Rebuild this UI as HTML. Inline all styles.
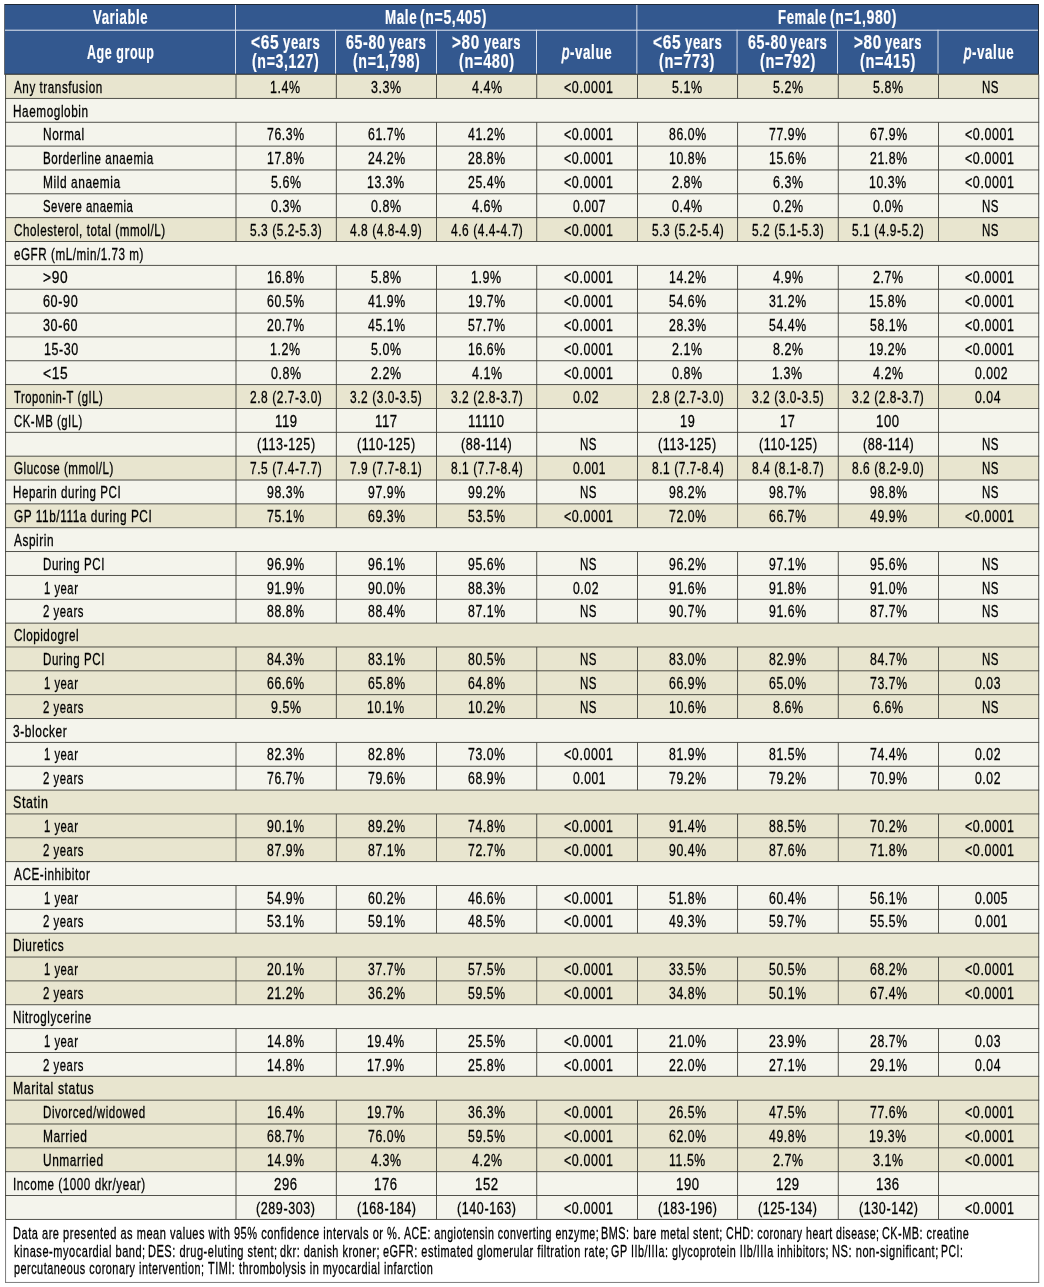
<!DOCTYPE html>
<html lang="en">
<head>
<meta charset="utf-8">
<title>Table</title>
<style>
html,body{margin:0;padding:0;background:#fff;}
body{width:1044px;height:1287px;overflow:hidden;position:relative;font-family:"Liberation Sans",sans-serif;color:#000;}
#grid{position:absolute;left:0;top:0;width:1044px;height:1287px;display:block;}
.hd{position:absolute;left:0;top:0;width:1044px;height:74.4px;color:#fff;font-weight:bold;font-size:19.8px;line-height:24px;}
.bd{position:absolute;left:0;top:0;width:1044px;font-size:16.8px;line-height:20px;}
.r{position:absolute;left:0;width:1044px;height:20px;}
.c,.h,.ft{position:absolute;white-space:nowrap;}
.c{top:0;height:20px;}
.h{height:24px;}
.c span,.h span,.ft span{display:inline-block;transform-origin:0 50%;}
.c span,.ft span{-webkit-text-stroke:0.32px #000;letter-spacing:0.8px;}
.h span{-webkit-text-stroke:0.2px #fff;letter-spacing:0.9px;}
.h i{font-style:italic;font-weight:normal;-webkit-text-stroke:0.9px #fff;}
.fl{position:absolute;left:0;width:1044px;height:20px;font-size:16.8px;line-height:20px;}
.ft{top:0;height:20px;}
</style>
</head>
<body>
<svg id="grid" width="1044" height="1287" viewBox="0 0 1044 1287">
<rect x="5.6" y="74.55" width="1033.15" height="23.851" fill="#e8e5cf"/>
<rect x="5.6" y="98.401" width="1033.15" height="119.255" fill="#f4f4ec"/>
<rect x="5.6" y="217.656" width="1033.15" height="23.851" fill="#e8e5cf"/>
<rect x="5.6" y="241.507" width="1033.15" height="143.106" fill="#f4f4ec"/>
<rect x="5.6" y="384.613" width="1033.15" height="23.851" fill="#e8e5cf"/>
<rect x="5.6" y="408.464" width="1033.15" height="47.702" fill="#f4f4ec"/>
<rect x="5.6" y="456.166" width="1033.15" height="23.851" fill="#e8e5cf"/>
<rect x="5.6" y="480.017" width="1033.15" height="23.851" fill="#f4f4ec"/>
<rect x="5.6" y="503.868" width="1033.15" height="23.851" fill="#e8e5cf"/>
<rect x="5.6" y="527.719" width="1033.15" height="95.404" fill="#f4f4ec"/>
<rect x="5.6" y="623.123" width="1033.15" height="95.404" fill="#e8e5cf"/>
<rect x="5.6" y="718.527" width="1033.15" height="71.553" fill="#f4f4ec"/>
<rect x="5.6" y="790.08" width="1033.15" height="71.553" fill="#e8e5cf"/>
<rect x="5.6" y="861.633" width="1033.15" height="71.553" fill="#f4f4ec"/>
<rect x="5.6" y="933.186" width="1033.15" height="71.553" fill="#e8e5cf"/>
<rect x="5.6" y="1004.739" width="1033.15" height="71.553" fill="#f4f4ec"/>
<rect x="5.6" y="1076.292" width="1033.15" height="95.404" fill="#e8e5cf"/>
<rect x="5.6" y="1171.696" width="1033.15" height="47.702" fill="#f4f4ec"/>
<rect x="4.3" y="4" width="1034.7" height="70.3" fill="#1f2937"/>
<rect x="5" y="5" width="1033" height="68.8" fill="#33588f"/>
<rect x="5" y="29.7" width="1033" height="1" fill="#e6eaf3"/>
<rect x="235.025" y="5" width="0.95" height="68.8" fill="#dde3ef"/>
<rect x="335.025" y="29.7" width="0.95" height="44.1" fill="#dde3ef"/>
<rect x="436.025" y="29.7" width="0.95" height="44.1" fill="#dde3ef"/>
<rect x="536.025" y="29.7" width="0.95" height="44.1" fill="#dde3ef"/>
<rect x="636.375" y="5" width="0.95" height="68.8" fill="#dde3ef"/>
<rect x="736.575" y="29.7" width="0.95" height="44.1" fill="#dde3ef"/>
<rect x="837.025" y="29.7" width="0.95" height="44.1" fill="#dde3ef"/>
<rect x="937.525" y="29.7" width="0.95" height="44.1" fill="#dde3ef"/>
<rect x="4.3" y="73.8" width="1034.7" height="1" fill="#3f3f39"/>
<rect x="5.15" y="97.951" width="1034.05" height="0.9" fill="#3f3f39"/>
<rect x="5.15" y="121.802" width="1034.05" height="0.9" fill="#3f3f39"/>
<rect x="5.15" y="145.653" width="1034.05" height="0.9" fill="#3f3f39"/>
<rect x="5.15" y="169.504" width="1034.05" height="0.9" fill="#3f3f39"/>
<rect x="5.15" y="193.355" width="1034.05" height="0.9" fill="#3f3f39"/>
<rect x="5.15" y="217.206" width="1034.05" height="0.9" fill="#3f3f39"/>
<rect x="5.15" y="241.057" width="1034.05" height="0.9" fill="#3f3f39"/>
<rect x="5.15" y="264.908" width="1034.05" height="0.9" fill="#3f3f39"/>
<rect x="5.15" y="288.759" width="1034.05" height="0.9" fill="#3f3f39"/>
<rect x="5.15" y="312.61" width="1034.05" height="0.9" fill="#3f3f39"/>
<rect x="5.15" y="336.461" width="1034.05" height="0.9" fill="#3f3f39"/>
<rect x="5.15" y="360.312" width="1034.05" height="0.9" fill="#3f3f39"/>
<rect x="5.15" y="384.163" width="1034.05" height="0.9" fill="#3f3f39"/>
<rect x="5.15" y="408.014" width="1034.05" height="0.9" fill="#3f3f39"/>
<rect x="5.15" y="431.865" width="1034.05" height="0.9" fill="#3f3f39"/>
<rect x="5.15" y="455.716" width="1034.05" height="0.9" fill="#3f3f39"/>
<rect x="5.15" y="479.567" width="1034.05" height="0.9" fill="#3f3f39"/>
<rect x="5.15" y="503.418" width="1034.05" height="0.9" fill="#3f3f39"/>
<rect x="5.15" y="527.269" width="1034.05" height="0.9" fill="#3f3f39"/>
<rect x="5.15" y="551.12" width="1034.05" height="0.9" fill="#3f3f39"/>
<rect x="5.15" y="574.971" width="1034.05" height="0.9" fill="#3f3f39"/>
<rect x="5.15" y="598.822" width="1034.05" height="0.9" fill="#3f3f39"/>
<rect x="5.15" y="622.673" width="1034.05" height="0.9" fill="#3f3f39"/>
<rect x="5.15" y="646.524" width="1034.05" height="0.9" fill="#3f3f39"/>
<rect x="5.15" y="670.375" width="1034.05" height="0.9" fill="#3f3f39"/>
<rect x="5.15" y="694.226" width="1034.05" height="0.9" fill="#3f3f39"/>
<rect x="5.15" y="718.077" width="1034.05" height="0.9" fill="#3f3f39"/>
<rect x="5.15" y="741.928" width="1034.05" height="0.9" fill="#3f3f39"/>
<rect x="5.15" y="765.779" width="1034.05" height="0.9" fill="#3f3f39"/>
<rect x="5.15" y="789.63" width="1034.05" height="0.9" fill="#3f3f39"/>
<rect x="5.15" y="813.481" width="1034.05" height="0.9" fill="#3f3f39"/>
<rect x="5.15" y="837.332" width="1034.05" height="0.9" fill="#3f3f39"/>
<rect x="5.15" y="861.183" width="1034.05" height="0.9" fill="#3f3f39"/>
<rect x="5.15" y="885.034" width="1034.05" height="0.9" fill="#3f3f39"/>
<rect x="5.15" y="908.885" width="1034.05" height="0.9" fill="#3f3f39"/>
<rect x="5.15" y="932.736" width="1034.05" height="0.9" fill="#3f3f39"/>
<rect x="5.15" y="956.587" width="1034.05" height="0.9" fill="#3f3f39"/>
<rect x="5.15" y="980.438" width="1034.05" height="0.9" fill="#3f3f39"/>
<rect x="5.15" y="1004.289" width="1034.05" height="0.9" fill="#3f3f39"/>
<rect x="5.15" y="1028.14" width="1034.05" height="0.9" fill="#3f3f39"/>
<rect x="5.15" y="1051.991" width="1034.05" height="0.9" fill="#3f3f39"/>
<rect x="5.15" y="1075.842" width="1034.05" height="0.9" fill="#3f3f39"/>
<rect x="5.15" y="1099.693" width="1034.05" height="0.9" fill="#3f3f39"/>
<rect x="5.15" y="1123.544" width="1034.05" height="0.9" fill="#3f3f39"/>
<rect x="5.15" y="1147.395" width="1034.05" height="0.9" fill="#3f3f39"/>
<rect x="5.15" y="1171.246" width="1034.05" height="0.9" fill="#3f3f39"/>
<rect x="5.15" y="1195.097" width="1034.05" height="0.9" fill="#3f3f39"/>
<rect x="5.15" y="1218.948" width="1034.05" height="0.9" fill="#3f3f39"/>
<rect x="5.15" y="74.55" width="0.9" height="1144.848" fill="#3f3f39"/>
<rect x="1038.3" y="74.55" width="0.9" height="1144.848" fill="#3f3f39"/>
<rect x="235.55" y="74.55" width="0.9" height="23.851" fill="#3f3f39"/>
<rect x="335.85" y="74.55" width="0.9" height="23.851" fill="#3f3f39"/>
<rect x="436.05" y="74.55" width="0.9" height="23.851" fill="#3f3f39"/>
<rect x="536.3" y="74.55" width="0.9" height="23.851" fill="#3f3f39"/>
<rect x="637.05" y="74.55" width="0.9" height="23.851" fill="#3f3f39"/>
<rect x="737.15" y="74.55" width="0.9" height="23.851" fill="#3f3f39"/>
<rect x="837.8" y="74.55" width="0.9" height="23.851" fill="#3f3f39"/>
<rect x="938.05" y="74.55" width="0.9" height="23.851" fill="#3f3f39"/>
<rect x="235.55" y="122.252" width="0.9" height="119.255" fill="#3f3f39"/>
<rect x="335.85" y="122.252" width="0.9" height="119.255" fill="#3f3f39"/>
<rect x="436.05" y="122.252" width="0.9" height="119.255" fill="#3f3f39"/>
<rect x="536.3" y="122.252" width="0.9" height="119.255" fill="#3f3f39"/>
<rect x="637.05" y="122.252" width="0.9" height="119.255" fill="#3f3f39"/>
<rect x="737.15" y="122.252" width="0.9" height="119.255" fill="#3f3f39"/>
<rect x="837.8" y="122.252" width="0.9" height="119.255" fill="#3f3f39"/>
<rect x="938.05" y="122.252" width="0.9" height="119.255" fill="#3f3f39"/>
<rect x="235.55" y="265.358" width="0.9" height="262.361" fill="#3f3f39"/>
<rect x="335.85" y="265.358" width="0.9" height="262.361" fill="#3f3f39"/>
<rect x="436.05" y="265.358" width="0.9" height="262.361" fill="#3f3f39"/>
<rect x="536.3" y="265.358" width="0.9" height="262.361" fill="#3f3f39"/>
<rect x="637.05" y="265.358" width="0.9" height="262.361" fill="#3f3f39"/>
<rect x="737.15" y="265.358" width="0.9" height="262.361" fill="#3f3f39"/>
<rect x="837.8" y="265.358" width="0.9" height="262.361" fill="#3f3f39"/>
<rect x="938.05" y="265.358" width="0.9" height="262.361" fill="#3f3f39"/>
<rect x="235.55" y="551.57" width="0.9" height="71.553" fill="#3f3f39"/>
<rect x="335.85" y="551.57" width="0.9" height="71.553" fill="#3f3f39"/>
<rect x="436.05" y="551.57" width="0.9" height="71.553" fill="#3f3f39"/>
<rect x="536.3" y="551.57" width="0.9" height="71.553" fill="#3f3f39"/>
<rect x="637.05" y="551.57" width="0.9" height="71.553" fill="#3f3f39"/>
<rect x="737.15" y="551.57" width="0.9" height="71.553" fill="#3f3f39"/>
<rect x="837.8" y="551.57" width="0.9" height="71.553" fill="#3f3f39"/>
<rect x="938.05" y="551.57" width="0.9" height="71.553" fill="#3f3f39"/>
<rect x="235.55" y="646.974" width="0.9" height="71.553" fill="#3f3f39"/>
<rect x="335.85" y="646.974" width="0.9" height="71.553" fill="#3f3f39"/>
<rect x="436.05" y="646.974" width="0.9" height="71.553" fill="#3f3f39"/>
<rect x="536.3" y="646.974" width="0.9" height="71.553" fill="#3f3f39"/>
<rect x="637.05" y="646.974" width="0.9" height="71.553" fill="#3f3f39"/>
<rect x="737.15" y="646.974" width="0.9" height="71.553" fill="#3f3f39"/>
<rect x="837.8" y="646.974" width="0.9" height="71.553" fill="#3f3f39"/>
<rect x="938.05" y="646.974" width="0.9" height="71.553" fill="#3f3f39"/>
<rect x="235.55" y="742.378" width="0.9" height="47.702" fill="#3f3f39"/>
<rect x="335.85" y="742.378" width="0.9" height="47.702" fill="#3f3f39"/>
<rect x="436.05" y="742.378" width="0.9" height="47.702" fill="#3f3f39"/>
<rect x="536.3" y="742.378" width="0.9" height="47.702" fill="#3f3f39"/>
<rect x="637.05" y="742.378" width="0.9" height="47.702" fill="#3f3f39"/>
<rect x="737.15" y="742.378" width="0.9" height="47.702" fill="#3f3f39"/>
<rect x="837.8" y="742.378" width="0.9" height="47.702" fill="#3f3f39"/>
<rect x="938.05" y="742.378" width="0.9" height="47.702" fill="#3f3f39"/>
<rect x="235.55" y="813.931" width="0.9" height="47.702" fill="#3f3f39"/>
<rect x="335.85" y="813.931" width="0.9" height="47.702" fill="#3f3f39"/>
<rect x="436.05" y="813.931" width="0.9" height="47.702" fill="#3f3f39"/>
<rect x="536.3" y="813.931" width="0.9" height="47.702" fill="#3f3f39"/>
<rect x="637.05" y="813.931" width="0.9" height="47.702" fill="#3f3f39"/>
<rect x="737.15" y="813.931" width="0.9" height="47.702" fill="#3f3f39"/>
<rect x="837.8" y="813.931" width="0.9" height="47.702" fill="#3f3f39"/>
<rect x="938.05" y="813.931" width="0.9" height="47.702" fill="#3f3f39"/>
<rect x="235.55" y="885.484" width="0.9" height="47.702" fill="#3f3f39"/>
<rect x="335.85" y="885.484" width="0.9" height="47.702" fill="#3f3f39"/>
<rect x="436.05" y="885.484" width="0.9" height="47.702" fill="#3f3f39"/>
<rect x="536.3" y="885.484" width="0.9" height="47.702" fill="#3f3f39"/>
<rect x="637.05" y="885.484" width="0.9" height="47.702" fill="#3f3f39"/>
<rect x="737.15" y="885.484" width="0.9" height="47.702" fill="#3f3f39"/>
<rect x="837.8" y="885.484" width="0.9" height="47.702" fill="#3f3f39"/>
<rect x="938.05" y="885.484" width="0.9" height="47.702" fill="#3f3f39"/>
<rect x="235.55" y="957.037" width="0.9" height="47.702" fill="#3f3f39"/>
<rect x="335.85" y="957.037" width="0.9" height="47.702" fill="#3f3f39"/>
<rect x="436.05" y="957.037" width="0.9" height="47.702" fill="#3f3f39"/>
<rect x="536.3" y="957.037" width="0.9" height="47.702" fill="#3f3f39"/>
<rect x="637.05" y="957.037" width="0.9" height="47.702" fill="#3f3f39"/>
<rect x="737.15" y="957.037" width="0.9" height="47.702" fill="#3f3f39"/>
<rect x="837.8" y="957.037" width="0.9" height="47.702" fill="#3f3f39"/>
<rect x="938.05" y="957.037" width="0.9" height="47.702" fill="#3f3f39"/>
<rect x="235.55" y="1028.59" width="0.9" height="47.702" fill="#3f3f39"/>
<rect x="335.85" y="1028.59" width="0.9" height="47.702" fill="#3f3f39"/>
<rect x="436.05" y="1028.59" width="0.9" height="47.702" fill="#3f3f39"/>
<rect x="536.3" y="1028.59" width="0.9" height="47.702" fill="#3f3f39"/>
<rect x="637.05" y="1028.59" width="0.9" height="47.702" fill="#3f3f39"/>
<rect x="737.15" y="1028.59" width="0.9" height="47.702" fill="#3f3f39"/>
<rect x="837.8" y="1028.59" width="0.9" height="47.702" fill="#3f3f39"/>
<rect x="938.05" y="1028.59" width="0.9" height="47.702" fill="#3f3f39"/>
<rect x="235.55" y="1100.143" width="0.9" height="119.255" fill="#3f3f39"/>
<rect x="335.85" y="1100.143" width="0.9" height="119.255" fill="#3f3f39"/>
<rect x="436.05" y="1100.143" width="0.9" height="119.255" fill="#3f3f39"/>
<rect x="536.3" y="1100.143" width="0.9" height="119.255" fill="#3f3f39"/>
<rect x="637.05" y="1100.143" width="0.9" height="119.255" fill="#3f3f39"/>
<rect x="737.15" y="1100.143" width="0.9" height="119.255" fill="#3f3f39"/>
<rect x="837.8" y="1100.143" width="0.9" height="119.255" fill="#3f3f39"/>
<rect x="938.05" y="1100.143" width="0.9" height="119.255" fill="#3f3f39"/>
<rect x="5.15" y="1219.848" width="0.9" height="63.002" fill="#6e6e6e"/>
<rect x="1038.3" y="1219.848" width="0.9" height="63.002" fill="#6e6e6e"/>
<rect x="5.15" y="1281.95" width="1034.05" height="0.9" fill="#6e6e6e"/>
</svg>
<div class="hd">
<div class="h" style="left:93.124px;top:5px"><span style="transform:scaleX(0.6639)">Variable</span></div>
<div class="h" style="left:384.67px;top:5px"><span style="transform:scaleX(0.6768)">Male </span></div>
<div class="h" style="left:420.168px;top:5px"><span style="transform:scaleX(0.7102)">(n=5,405)</span></div>
<div class="h" style="left:777.882px;top:5px"><span style="transform:scaleX(0.6668)">Female </span></div>
<div class="h" style="left:830.367px;top:5px"><span style="transform:scaleX(0.7113)">(n=1,980)</span></div>
<div class="h" style="left:86.901px;top:40px"><span style="transform:scaleX(0.6309)">Age group</span></div>
<div class="h" style="left:251.427px;top:30px"><span style="transform:scaleX(0.7837)">&lt;65 </span></div>
<div class="h" style="left:283.061px;top:30px"><span style="transform:scaleX(0.6632)">years</span></div>
<div class="h" style="left:252.164px;top:49px"><span style="transform:scaleX(0.7145)">(n=3,127)</span></div>
<div class="h" style="left:346.106px;top:30px"><span style="transform:scaleX(0.7176)">65-80 </span></div>
<div class="h" style="left:388.821px;top:30px"><span style="transform:scaleX(0.6632)">years</span></div>
<div class="h" style="left:352.524px;top:49px"><span style="transform:scaleX(0.7145)">(n=1,798)</span></div>
<div class="h" style="left:452.157px;top:30px"><span style="transform:scaleX(0.7691)">&gt;80 </span></div>
<div class="h" style="left:483.881px;top:30px"><span style="transform:scaleX(0.6613)">years</span></div>
<div class="h" style="left:458.717px;top:49px"><span style="transform:scaleX(0.7334)">(n=480)</span></div>
<div class="h" style="left:562.281px;top:40px"><span style="transform:scaleX(0.6734)"><i>p</i>-value</span></div>
<div class="h" style="left:652.867px;top:30px"><span style="transform:scaleX(0.7837)">&lt;65 </span></div>
<div class="h" style="left:684.501px;top:30px"><span style="transform:scaleX(0.6632)">years</span></div>
<div class="h" style="left:659.386px;top:49px"><span style="transform:scaleX(0.7348)">(n=773)</span></div>
<div class="h" style="left:747.546px;top:30px"><span style="transform:scaleX(0.7176)">65-80 </span></div>
<div class="h" style="left:790.261px;top:30px"><span style="transform:scaleX(0.6632)">years</span></div>
<div class="h" style="left:759.746px;top:49px"><span style="transform:scaleX(0.7348)">(n=792)</span></div>
<div class="h" style="left:853.597px;top:30px"><span style="transform:scaleX(0.7691)">&gt;80 </span></div>
<div class="h" style="left:885.321px;top:30px"><span style="transform:scaleX(0.6613)">years</span></div>
<div class="h" style="left:860.055px;top:49px"><span style="transform:scaleX(0.7361)">(n=415)</span></div>
<div class="h" style="left:963.721px;top:40px"><span style="transform:scaleX(0.6734)"><i>p</i>-value</span></div>
</div>
<div class="bd">
<div class="r" style="top:78px">
<div class="c" style="left:13.788px"><span style="transform:scaleX(0.6950)">Any transfusion</span></div>
<div class="c" style="left:270.446px"><span style="transform:scaleX(0.7422)">1.4%</span></div>
<div class="c" style="left:371.082px"><span style="transform:scaleX(0.7422)">3.3%</span></div>
<div class="c" style="left:471.576px"><span style="transform:scaleX(0.7422)">4.4%</span></div>
<div class="c" style="left:563.608px"><span style="transform:scaleX(0.7424)">&lt;0.0001</span></div>
<div class="c" style="left:672.27px"><span style="transform:scaleX(0.7422)">5.1%</span></div>
<div class="c" style="left:772.67px"><span style="transform:scaleX(0.7422)">5.2%</span></div>
<div class="c" style="left:873.07px"><span style="transform:scaleX(0.7422)">5.8%</span></div>
<div class="c" style="left:981.615px"><span style="transform:scaleX(0.6860)">NS</span></div>
</div>
<div class="r" style="top:102px">
<div class="c" style="left:12.945px"><span style="transform:scaleX(0.7020)">Haemoglobin</span></div>
</div>
<div class="r" style="top:125px">
<div class="c" style="left:42.836px"><span style="transform:scaleX(0.7094)">Normal</span></div>
<div class="c" style="left:267.141px"><span style="transform:scaleX(0.7303)">76.3%</span></div>
<div class="c" style="left:367.541px"><span style="transform:scaleX(0.7303)">61.7%</span></div>
<div class="c" style="left:468.113px"><span style="transform:scaleX(0.7303)">41.2%</span></div>
<div class="c" style="left:563.608px"><span style="transform:scaleX(0.7424)">&lt;0.0001</span></div>
<div class="c" style="left:668.79px"><span style="transform:scaleX(0.7303)">86.0%</span></div>
<div class="c" style="left:769.141px"><span style="transform:scaleX(0.7303)">77.9%</span></div>
<div class="c" style="left:869.541px"><span style="transform:scaleX(0.7303)">67.9%</span></div>
<div class="c" style="left:965.208px"><span style="transform:scaleX(0.7424)">&lt;0.0001</span></div>
</div>
<div class="r" style="top:149px">
<div class="c" style="left:42.857px"><span style="transform:scaleX(0.6927)">Borderline anaemia</span></div>
<div class="c" style="left:266.988px"><span style="transform:scaleX(0.7303)">17.8%</span></div>
<div class="c" style="left:367.547px"><span style="transform:scaleX(0.7303)">24.2%</span></div>
<div class="c" style="left:467.947px"><span style="transform:scaleX(0.7303)">28.8%</span></div>
<div class="c" style="left:563.608px"><span style="transform:scaleX(0.7424)">&lt;0.0001</span></div>
<div class="c" style="left:668.588px"><span style="transform:scaleX(0.7303)">10.8%</span></div>
<div class="c" style="left:768.988px"><span style="transform:scaleX(0.7303)">15.6%</span></div>
<div class="c" style="left:869.547px"><span style="transform:scaleX(0.7303)">21.8%</span></div>
<div class="c" style="left:965.208px"><span style="transform:scaleX(0.7424)">&lt;0.0001</span></div>
</div>
<div class="r" style="top:173px">
<div class="c" style="left:42.835px"><span style="transform:scaleX(0.7106)">Mild anaemia</span></div>
<div class="c" style="left:270.67px"><span style="transform:scaleX(0.7422)">5.6%</span></div>
<div class="c" style="left:367.388px"><span style="transform:scaleX(0.7303)">13.3%</span></div>
<div class="c" style="left:467.947px"><span style="transform:scaleX(0.7303)">25.4%</span></div>
<div class="c" style="left:563.608px"><span style="transform:scaleX(0.7424)">&lt;0.0001</span></div>
<div class="c" style="left:672.208px"><span style="transform:scaleX(0.7422)">2.8%</span></div>
<div class="c" style="left:772.601px"><span style="transform:scaleX(0.7422)">6.3%</span></div>
<div class="c" style="left:869.388px"><span style="transform:scaleX(0.7303)">10.3%</span></div>
<div class="c" style="left:965.208px"><span style="transform:scaleX(0.7424)">&lt;0.0001</span></div>
</div>
<div class="r" style="top:197px">
<div class="c" style="left:42.885px"><span style="transform:scaleX(0.6773)">Severe anaemia</span></div>
<div class="c" style="left:270.676px"><span style="transform:scaleX(0.7422)">0.3%</span></div>
<div class="c" style="left:371.076px"><span style="transform:scaleX(0.7422)">0.8%</span></div>
<div class="c" style="left:471.576px"><span style="transform:scaleX(0.7422)">4.6%</span></div>
<div class="c" style="left:573.244px"><span style="transform:scaleX(0.7195)">0.007</span></div>
<div class="c" style="left:672.276px"><span style="transform:scaleX(0.7422)">0.4%</span></div>
<div class="c" style="left:772.676px"><span style="transform:scaleX(0.7422)">0.2%</span></div>
<div class="c" style="left:873.076px"><span style="transform:scaleX(0.7422)">0.0%</span></div>
<div class="c" style="left:981.615px"><span style="transform:scaleX(0.6860)">NS</span></div>
</div>
<div class="r" style="top:221px">
<div class="c" style="left:13.716px"><span style="transform:scaleX(0.6947)">Cholesterol, total (mmol/L)</span></div>
<div class="c" style="left:249.986px"><span style="transform:scaleX(0.7110)">5.3 (5.2-5.3)</span></div>
<div class="c" style="left:350.487px"><span style="transform:scaleX(0.7110)">4.8 (4.8-4.9)</span></div>
<div class="c" style="left:450.887px"><span style="transform:scaleX(0.7110)">4.6 (4.4-4.7)</span></div>
<div class="c" style="left:563.608px"><span style="transform:scaleX(0.7424)">&lt;0.0001</span></div>
<div class="c" style="left:651.586px"><span style="transform:scaleX(0.7110)">5.3 (5.2-5.4)</span></div>
<div class="c" style="left:751.986px"><span style="transform:scaleX(0.7110)">5.2 (5.1-5.3)</span></div>
<div class="c" style="left:852.386px"><span style="transform:scaleX(0.7110)">5.1 (4.9-5.2)</span></div>
<div class="c" style="left:981.615px"><span style="transform:scaleX(0.6860)">NS</span></div>
</div>
<div class="r" style="top:245px">
<div class="c" style="left:13.522px"><span style="transform:scaleX(0.6931)">eGFR (mL/min/1.73 m)</span></div>
</div>
<div class="r" style="top:268px">
<div class="c" style="left:43.157px"><span style="transform:scaleX(0.8191)">&gt;90</span></div>
<div class="c" style="left:266.988px"><span style="transform:scaleX(0.7303)">16.8%</span></div>
<div class="c" style="left:371.07px"><span style="transform:scaleX(0.7422)">5.8%</span></div>
<div class="c" style="left:471.246px"><span style="transform:scaleX(0.7422)">1.9%</span></div>
<div class="c" style="left:563.608px"><span style="transform:scaleX(0.7424)">&lt;0.0001</span></div>
<div class="c" style="left:668.588px"><span style="transform:scaleX(0.7303)">14.2%</span></div>
<div class="c" style="left:772.776px"><span style="transform:scaleX(0.7422)">4.9%</span></div>
<div class="c" style="left:873.008px"><span style="transform:scaleX(0.7422)">2.7%</span></div>
<div class="c" style="left:965.208px"><span style="transform:scaleX(0.7424)">&lt;0.0001</span></div>
</div>
<div class="r" style="top:292px">
<div class="c" style="left:43.176px"><span style="transform:scaleX(0.7517)">60-90</span></div>
<div class="c" style="left:267.141px"><span style="transform:scaleX(0.7303)">60.5%</span></div>
<div class="c" style="left:367.713px"><span style="transform:scaleX(0.7303)">41.9%</span></div>
<div class="c" style="left:467.788px"><span style="transform:scaleX(0.7303)">19.7%</span></div>
<div class="c" style="left:563.608px"><span style="transform:scaleX(0.7424)">&lt;0.0001</span></div>
<div class="c" style="left:668.809px"><span style="transform:scaleX(0.7303)">54.6%</span></div>
<div class="c" style="left:769.221px"><span style="transform:scaleX(0.7303)">31.2%</span></div>
<div class="c" style="left:869.388px"><span style="transform:scaleX(0.7303)">15.8%</span></div>
<div class="c" style="left:965.208px"><span style="transform:scaleX(0.7424)">&lt;0.0001</span></div>
</div>
<div class="r" style="top:316px">
<div class="c" style="left:43.342px"><span style="transform:scaleX(0.7481)">30-60</span></div>
<div class="c" style="left:267.147px"><span style="transform:scaleX(0.7303)">20.7%</span></div>
<div class="c" style="left:367.713px"><span style="transform:scaleX(0.7303)">45.1%</span></div>
<div class="c" style="left:468.009px"><span style="transform:scaleX(0.7303)">57.7%</span></div>
<div class="c" style="left:563.608px"><span style="transform:scaleX(0.7424)">&lt;0.0001</span></div>
<div class="c" style="left:668.747px"><span style="transform:scaleX(0.7303)">28.3%</span></div>
<div class="c" style="left:769.209px"><span style="transform:scaleX(0.7303)">54.4%</span></div>
<div class="c" style="left:869.609px"><span style="transform:scaleX(0.7303)">58.1%</span></div>
<div class="c" style="left:965.208px"><span style="transform:scaleX(0.7424)">&lt;0.0001</span></div>
</div>
<div class="r" style="top:340px">
<div class="c" style="left:43.57px"><span style="transform:scaleX(0.7431)">15-30</span></div>
<div class="c" style="left:270.446px"><span style="transform:scaleX(0.7422)">1.2%</span></div>
<div class="c" style="left:371.07px"><span style="transform:scaleX(0.7422)">5.0%</span></div>
<div class="c" style="left:467.788px"><span style="transform:scaleX(0.7303)">16.6%</span></div>
<div class="c" style="left:563.608px"><span style="transform:scaleX(0.7424)">&lt;0.0001</span></div>
<div class="c" style="left:672.208px"><span style="transform:scaleX(0.7422)">2.1%</span></div>
<div class="c" style="left:772.651px"><span style="transform:scaleX(0.7422)">8.2%</span></div>
<div class="c" style="left:869.388px"><span style="transform:scaleX(0.7303)">19.2%</span></div>
<div class="c" style="left:965.208px"><span style="transform:scaleX(0.7424)">&lt;0.0001</span></div>
</div>
<div class="r" style="top:364px">
<div class="c" style="left:43.156px"><span style="transform:scaleX(0.8205)">&lt;15</span></div>
<div class="c" style="left:270.676px"><span style="transform:scaleX(0.7422)">0.8%</span></div>
<div class="c" style="left:371.008px"><span style="transform:scaleX(0.7422)">2.2%</span></div>
<div class="c" style="left:471.576px"><span style="transform:scaleX(0.7422)">4.1%</span></div>
<div class="c" style="left:563.608px"><span style="transform:scaleX(0.7424)">&lt;0.0001</span></div>
<div class="c" style="left:672.276px"><span style="transform:scaleX(0.7422)">0.8%</span></div>
<div class="c" style="left:772.446px"><span style="transform:scaleX(0.7422)">1.3%</span></div>
<div class="c" style="left:873.176px"><span style="transform:scaleX(0.7422)">4.2%</span></div>
<div class="c" style="left:974.844px"><span style="transform:scaleX(0.7195)">0.002</span></div>
</div>
<div class="r" style="top:388px">
<div class="c" style="left:14.059px"><span style="transform:scaleX(0.6707)">Troponin-T (gIL)</span></div>
<div class="c" style="left:249.926px"><span style="transform:scaleX(0.7110)">2.8 (2.7-3.0)</span></div>
<div class="c" style="left:350.398px"><span style="transform:scaleX(0.7110)">3.2 (3.0-3.5)</span></div>
<div class="c" style="left:450.798px"><span style="transform:scaleX(0.7110)">3.2 (2.8-3.7)</span></div>
<div class="c" style="left:573.241px"><span style="transform:scaleX(0.7253)">0.02</span></div>
<div class="c" style="left:651.526px"><span style="transform:scaleX(0.7110)">2.8 (2.7-3.0)</span></div>
<div class="c" style="left:751.998px"><span style="transform:scaleX(0.7110)">3.2 (3.0-3.5)</span></div>
<div class="c" style="left:852.398px"><span style="transform:scaleX(0.7110)">3.2 (2.8-3.7)</span></div>
<div class="c" style="left:974.841px"><span style="transform:scaleX(0.7253)">0.04</span></div>
</div>
<div class="r" style="top:412px">
<div class="c" style="left:13.729px"><span style="transform:scaleX(0.6756)">CK-MB (gIL)</span></div>
<div class="c" style="left:274.528px"><span style="transform:scaleX(0.7810)">119</span></div>
<div class="c" style="left:374.947px"><span style="transform:scaleX(0.7810)">117</span></div>
<div class="c" style="left:468.275px"><span style="transform:scaleX(0.7832)">11110</span></div>
<div class="c" style="left:679.856px"><span style="transform:scaleX(0.7556)">19</span></div>
<div class="c" style="left:780.275px"><span style="transform:scaleX(0.7556)">17</span></div>
<div class="c" style="left:876.39px"><span style="transform:scaleX(0.7810)">100</span></div>
</div>
<div class="r" style="top:435px">
<div class="c" style="left:256.743px"><span style="transform:scaleX(0.7450)">(113-125)</span></div>
<div class="c" style="left:357.143px"><span style="transform:scaleX(0.7450)">(110-125)</span></div>
<div class="c" style="left:461.19px"><span style="transform:scaleX(0.7489)">(88-114)</span></div>
<div class="c" style="left:580.015px"><span style="transform:scaleX(0.6860)">NS</span></div>
<div class="c" style="left:658.343px"><span style="transform:scaleX(0.7450)">(113-125)</span></div>
<div class="c" style="left:758.743px"><span style="transform:scaleX(0.7450)">(110-125)</span></div>
<div class="c" style="left:862.79px"><span style="transform:scaleX(0.7489)">(88-114)</span></div>
<div class="c" style="left:981.615px"><span style="transform:scaleX(0.6860)">NS</span></div>
</div>
<div class="r" style="top:459px">
<div class="c" style="left:13.732px"><span style="transform:scaleX(0.6881)">Glucose (mmol/L)</span></div>
<div class="c" style="left:249.92px"><span style="transform:scaleX(0.7110)">7.5 (7.4-7.7)</span></div>
<div class="c" style="left:350.32px"><span style="transform:scaleX(0.7110)">7.9 (7.7-8.1)</span></div>
<div class="c" style="left:450.768px"><span style="transform:scaleX(0.7110)">8.1 (7.7-8.4)</span></div>
<div class="c" style="left:573.244px"><span style="transform:scaleX(0.7195)">0.001</span></div>
<div class="c" style="left:651.568px"><span style="transform:scaleX(0.7110)">8.1 (7.7-8.4)</span></div>
<div class="c" style="left:751.968px"><span style="transform:scaleX(0.7110)">8.4 (8.1-8.7)</span></div>
<div class="c" style="left:852.368px"><span style="transform:scaleX(0.7110)">8.6 (8.2-9.0)</span></div>
<div class="c" style="left:981.615px"><span style="transform:scaleX(0.6860)">NS</span></div>
</div>
<div class="r" style="top:483px">
<div class="c" style="left:13.361px"><span style="transform:scaleX(0.6888)">Heparin during PCI</span></div>
<div class="c" style="left:267.166px"><span style="transform:scaleX(0.7303)">98.3%</span></div>
<div class="c" style="left:367.566px"><span style="transform:scaleX(0.7303)">97.9%</span></div>
<div class="c" style="left:467.966px"><span style="transform:scaleX(0.7303)">99.2%</span></div>
<div class="c" style="left:580.015px"><span style="transform:scaleX(0.6860)">NS</span></div>
<div class="c" style="left:668.766px"><span style="transform:scaleX(0.7303)">98.2%</span></div>
<div class="c" style="left:769.166px"><span style="transform:scaleX(0.7303)">98.7%</span></div>
<div class="c" style="left:869.566px"><span style="transform:scaleX(0.7303)">98.8%</span></div>
<div class="c" style="left:981.615px"><span style="transform:scaleX(0.6860)">NS</span></div>
</div>
<div class="r" style="top:507px">
<div class="c" style="left:13.721px"><span style="transform:scaleX(0.7040)">GP 11b/111a during PCI</span></div>
<div class="c" style="left:267.141px"><span style="transform:scaleX(0.7303)">75.1%</span></div>
<div class="c" style="left:367.541px"><span style="transform:scaleX(0.7303)">69.3%</span></div>
<div class="c" style="left:468.009px"><span style="transform:scaleX(0.7303)">53.5%</span></div>
<div class="c" style="left:563.608px"><span style="transform:scaleX(0.7424)">&lt;0.0001</span></div>
<div class="c" style="left:668.741px"><span style="transform:scaleX(0.7303)">72.0%</span></div>
<div class="c" style="left:769.141px"><span style="transform:scaleX(0.7303)">66.7%</span></div>
<div class="c" style="left:869.713px"><span style="transform:scaleX(0.7303)">49.9%</span></div>
<div class="c" style="left:965.208px"><span style="transform:scaleX(0.7424)">&lt;0.0001</span></div>
</div>
<div class="r" style="top:531px">
<div class="c" style="left:13.889px"><span style="transform:scaleX(0.7064)">Aspirin</span></div>
</div>
<div class="r" style="top:555px">
<div class="c" style="left:42.862px"><span style="transform:scaleX(0.6881)">During PCI</span></div>
<div class="c" style="left:267.166px"><span style="transform:scaleX(0.7303)">96.9%</span></div>
<div class="c" style="left:367.566px"><span style="transform:scaleX(0.7303)">96.1%</span></div>
<div class="c" style="left:467.966px"><span style="transform:scaleX(0.7303)">95.6%</span></div>
<div class="c" style="left:580.015px"><span style="transform:scaleX(0.6860)">NS</span></div>
<div class="c" style="left:668.766px"><span style="transform:scaleX(0.7303)">96.2%</span></div>
<div class="c" style="left:769.166px"><span style="transform:scaleX(0.7303)">97.1%</span></div>
<div class="c" style="left:869.566px"><span style="transform:scaleX(0.7303)">95.6%</span></div>
<div class="c" style="left:981.615px"><span style="transform:scaleX(0.6860)">NS</span></div>
</div>
<div class="r" style="top:579px">
<div class="c" style="left:43.652px"><span style="transform:scaleX(0.6694)">1 year</span></div>
<div class="c" style="left:267.166px"><span style="transform:scaleX(0.7303)">91.9%</span></div>
<div class="c" style="left:367.566px"><span style="transform:scaleX(0.7303)">90.0%</span></div>
<div class="c" style="left:467.99px"><span style="transform:scaleX(0.7303)">88.3%</span></div>
<div class="c" style="left:573.241px"><span style="transform:scaleX(0.7253)">0.02</span></div>
<div class="c" style="left:668.766px"><span style="transform:scaleX(0.7303)">91.6%</span></div>
<div class="c" style="left:769.166px"><span style="transform:scaleX(0.7303)">91.8%</span></div>
<div class="c" style="left:869.566px"><span style="transform:scaleX(0.7303)">91.0%</span></div>
<div class="c" style="left:981.615px"><span style="transform:scaleX(0.6860)">NS</span></div>
</div>
<div class="r" style="top:602px">
<div class="c" style="left:43.241px"><span style="transform:scaleX(0.6756)">2 years</span></div>
<div class="c" style="left:267.19px"><span style="transform:scaleX(0.7303)">88.8%</span></div>
<div class="c" style="left:367.59px"><span style="transform:scaleX(0.7303)">88.4%</span></div>
<div class="c" style="left:467.99px"><span style="transform:scaleX(0.7303)">87.1%</span></div>
<div class="c" style="left:580.015px"><span style="transform:scaleX(0.6860)">NS</span></div>
<div class="c" style="left:668.766px"><span style="transform:scaleX(0.7303)">90.7%</span></div>
<div class="c" style="left:769.166px"><span style="transform:scaleX(0.7303)">91.6%</span></div>
<div class="c" style="left:869.59px"><span style="transform:scaleX(0.7303)">87.7%</span></div>
<div class="c" style="left:981.615px"><span style="transform:scaleX(0.6860)">NS</span></div>
</div>
<div class="r" style="top:626px">
<div class="c" style="left:13.715px"><span style="transform:scaleX(0.6954)">Clopidogrel</span></div>
</div>
<div class="r" style="top:650px">
<div class="c" style="left:42.862px"><span style="transform:scaleX(0.6881)">During PCI</span></div>
<div class="c" style="left:267.19px"><span style="transform:scaleX(0.7303)">84.3%</span></div>
<div class="c" style="left:367.59px"><span style="transform:scaleX(0.7303)">83.1%</span></div>
<div class="c" style="left:467.99px"><span style="transform:scaleX(0.7303)">80.5%</span></div>
<div class="c" style="left:580.015px"><span style="transform:scaleX(0.6860)">NS</span></div>
<div class="c" style="left:668.79px"><span style="transform:scaleX(0.7303)">83.0%</span></div>
<div class="c" style="left:769.19px"><span style="transform:scaleX(0.7303)">82.9%</span></div>
<div class="c" style="left:869.59px"><span style="transform:scaleX(0.7303)">84.7%</span></div>
<div class="c" style="left:981.615px"><span style="transform:scaleX(0.6860)">NS</span></div>
</div>
<div class="r" style="top:674px">
<div class="c" style="left:43.652px"><span style="transform:scaleX(0.6694)">1 year</span></div>
<div class="c" style="left:267.141px"><span style="transform:scaleX(0.7303)">66.6%</span></div>
<div class="c" style="left:367.541px"><span style="transform:scaleX(0.7303)">65.8%</span></div>
<div class="c" style="left:467.941px"><span style="transform:scaleX(0.7303)">64.8%</span></div>
<div class="c" style="left:580.015px"><span style="transform:scaleX(0.6860)">NS</span></div>
<div class="c" style="left:668.741px"><span style="transform:scaleX(0.7303)">66.9%</span></div>
<div class="c" style="left:769.141px"><span style="transform:scaleX(0.7303)">65.0%</span></div>
<div class="c" style="left:869.541px"><span style="transform:scaleX(0.7303)">73.7%</span></div>
<div class="c" style="left:974.841px"><span style="transform:scaleX(0.7253)">0.03</span></div>
</div>
<div class="r" style="top:698px">
<div class="c" style="left:43.241px"><span style="transform:scaleX(0.6756)">2 years</span></div>
<div class="c" style="left:270.626px"><span style="transform:scaleX(0.7422)">9.5%</span></div>
<div class="c" style="left:367.388px"><span style="transform:scaleX(0.7303)">10.1%</span></div>
<div class="c" style="left:467.788px"><span style="transform:scaleX(0.7303)">10.2%</span></div>
<div class="c" style="left:580.015px"><span style="transform:scaleX(0.6860)">NS</span></div>
<div class="c" style="left:668.588px"><span style="transform:scaleX(0.7303)">10.6%</span></div>
<div class="c" style="left:772.651px"><span style="transform:scaleX(0.7422)">8.6%</span></div>
<div class="c" style="left:873.001px"><span style="transform:scaleX(0.7422)">6.6%</span></div>
<div class="c" style="left:981.615px"><span style="transform:scaleX(0.6860)">NS</span></div>
</div>
<div class="r" style="top:722px">
<div class="c" style="left:13.46px"><span style="transform:scaleX(0.7117)">3-blocker</span></div>
</div>
<div class="r" style="top:745px">
<div class="c" style="left:43.652px"><span style="transform:scaleX(0.6694)">1 year</span></div>
<div class="c" style="left:267.19px"><span style="transform:scaleX(0.7303)">82.3%</span></div>
<div class="c" style="left:367.59px"><span style="transform:scaleX(0.7303)">82.8%</span></div>
<div class="c" style="left:467.941px"><span style="transform:scaleX(0.7303)">73.0%</span></div>
<div class="c" style="left:563.608px"><span style="transform:scaleX(0.7424)">&lt;0.0001</span></div>
<div class="c" style="left:668.79px"><span style="transform:scaleX(0.7303)">81.9%</span></div>
<div class="c" style="left:769.19px"><span style="transform:scaleX(0.7303)">81.5%</span></div>
<div class="c" style="left:869.541px"><span style="transform:scaleX(0.7303)">74.4%</span></div>
<div class="c" style="left:974.841px"><span style="transform:scaleX(0.7253)">0.02</span></div>
</div>
<div class="r" style="top:769px">
<div class="c" style="left:43.241px"><span style="transform:scaleX(0.6756)">2 years</span></div>
<div class="c" style="left:267.141px"><span style="transform:scaleX(0.7303)">76.7%</span></div>
<div class="c" style="left:367.541px"><span style="transform:scaleX(0.7303)">79.6%</span></div>
<div class="c" style="left:467.941px"><span style="transform:scaleX(0.7303)">68.9%</span></div>
<div class="c" style="left:573.244px"><span style="transform:scaleX(0.7195)">0.001</span></div>
<div class="c" style="left:668.741px"><span style="transform:scaleX(0.7303)">79.2%</span></div>
<div class="c" style="left:769.141px"><span style="transform:scaleX(0.7303)">79.2%</span></div>
<div class="c" style="left:869.541px"><span style="transform:scaleX(0.7303)">70.9%</span></div>
<div class="c" style="left:974.841px"><span style="transform:scaleX(0.7253)">0.02</span></div>
</div>
<div class="r" style="top:793px">
<div class="c" style="left:13.344px"><span style="transform:scaleX(0.7443)">Statin</span></div>
</div>
<div class="r" style="top:817px">
<div class="c" style="left:43.652px"><span style="transform:scaleX(0.6694)">1 year</span></div>
<div class="c" style="left:267.166px"><span style="transform:scaleX(0.7303)">90.1%</span></div>
<div class="c" style="left:367.59px"><span style="transform:scaleX(0.7303)">89.2%</span></div>
<div class="c" style="left:467.941px"><span style="transform:scaleX(0.7303)">74.8%</span></div>
<div class="c" style="left:563.608px"><span style="transform:scaleX(0.7424)">&lt;0.0001</span></div>
<div class="c" style="left:668.766px"><span style="transform:scaleX(0.7303)">91.4%</span></div>
<div class="c" style="left:769.19px"><span style="transform:scaleX(0.7303)">88.5%</span></div>
<div class="c" style="left:869.541px"><span style="transform:scaleX(0.7303)">70.2%</span></div>
<div class="c" style="left:965.208px"><span style="transform:scaleX(0.7424)">&lt;0.0001</span></div>
</div>
<div class="r" style="top:841px">
<div class="c" style="left:43.241px"><span style="transform:scaleX(0.6756)">2 years</span></div>
<div class="c" style="left:267.19px"><span style="transform:scaleX(0.7303)">87.9%</span></div>
<div class="c" style="left:367.59px"><span style="transform:scaleX(0.7303)">87.1%</span></div>
<div class="c" style="left:467.941px"><span style="transform:scaleX(0.7303)">72.7%</span></div>
<div class="c" style="left:563.608px"><span style="transform:scaleX(0.7424)">&lt;0.0001</span></div>
<div class="c" style="left:668.766px"><span style="transform:scaleX(0.7303)">90.4%</span></div>
<div class="c" style="left:769.19px"><span style="transform:scaleX(0.7303)">87.6%</span></div>
<div class="c" style="left:869.541px"><span style="transform:scaleX(0.7303)">71.8%</span></div>
<div class="c" style="left:965.208px"><span style="transform:scaleX(0.7424)">&lt;0.0001</span></div>
</div>
<div class="r" style="top:865px">
<div class="c" style="left:13.888px"><span style="transform:scaleX(0.6991)">ACE-inhibitor</span></div>
</div>
<div class="r" style="top:889px">
<div class="c" style="left:43.652px"><span style="transform:scaleX(0.6694)">1 year</span></div>
<div class="c" style="left:267.209px"><span style="transform:scaleX(0.7303)">54.9%</span></div>
<div class="c" style="left:367.541px"><span style="transform:scaleX(0.7303)">60.2%</span></div>
<div class="c" style="left:468.113px"><span style="transform:scaleX(0.7303)">46.6%</span></div>
<div class="c" style="left:563.608px"><span style="transform:scaleX(0.7424)">&lt;0.0001</span></div>
<div class="c" style="left:668.809px"><span style="transform:scaleX(0.7303)">51.8%</span></div>
<div class="c" style="left:769.141px"><span style="transform:scaleX(0.7303)">60.4%</span></div>
<div class="c" style="left:869.609px"><span style="transform:scaleX(0.7303)">56.1%</span></div>
<div class="c" style="left:974.844px"><span style="transform:scaleX(0.7195)">0.005</span></div>
</div>
<div class="r" style="top:912px">
<div class="c" style="left:43.241px"><span style="transform:scaleX(0.6756)">2 years</span></div>
<div class="c" style="left:267.209px"><span style="transform:scaleX(0.7303)">53.1%</span></div>
<div class="c" style="left:367.609px"><span style="transform:scaleX(0.7303)">59.1%</span></div>
<div class="c" style="left:468.113px"><span style="transform:scaleX(0.7303)">48.5%</span></div>
<div class="c" style="left:563.608px"><span style="transform:scaleX(0.7424)">&lt;0.0001</span></div>
<div class="c" style="left:668.913px"><span style="transform:scaleX(0.7303)">49.3%</span></div>
<div class="c" style="left:769.209px"><span style="transform:scaleX(0.7303)">59.7%</span></div>
<div class="c" style="left:869.609px"><span style="transform:scaleX(0.7303)">55.5%</span></div>
<div class="c" style="left:974.844px"><span style="transform:scaleX(0.7195)">0.001</span></div>
</div>
<div class="r" style="top:936px">
<div class="c" style="left:13.34px"><span style="transform:scaleX(0.7062)">Diuretics</span></div>
</div>
<div class="r" style="top:960px">
<div class="c" style="left:43.652px"><span style="transform:scaleX(0.6694)">1 year</span></div>
<div class="c" style="left:267.147px"><span style="transform:scaleX(0.7303)">20.1%</span></div>
<div class="c" style="left:367.621px"><span style="transform:scaleX(0.7303)">37.7%</span></div>
<div class="c" style="left:468.009px"><span style="transform:scaleX(0.7303)">57.5%</span></div>
<div class="c" style="left:563.608px"><span style="transform:scaleX(0.7424)">&lt;0.0001</span></div>
<div class="c" style="left:668.821px"><span style="transform:scaleX(0.7303)">33.5%</span></div>
<div class="c" style="left:769.209px"><span style="transform:scaleX(0.7303)">50.5%</span></div>
<div class="c" style="left:869.541px"><span style="transform:scaleX(0.7303)">68.2%</span></div>
<div class="c" style="left:965.208px"><span style="transform:scaleX(0.7424)">&lt;0.0001</span></div>
</div>
<div class="r" style="top:984px">
<div class="c" style="left:43.241px"><span style="transform:scaleX(0.6756)">2 years</span></div>
<div class="c" style="left:267.147px"><span style="transform:scaleX(0.7303)">21.2%</span></div>
<div class="c" style="left:367.621px"><span style="transform:scaleX(0.7303)">36.2%</span></div>
<div class="c" style="left:468.009px"><span style="transform:scaleX(0.7303)">59.5%</span></div>
<div class="c" style="left:563.608px"><span style="transform:scaleX(0.7424)">&lt;0.0001</span></div>
<div class="c" style="left:668.821px"><span style="transform:scaleX(0.7303)">34.8%</span></div>
<div class="c" style="left:769.209px"><span style="transform:scaleX(0.7303)">50.1%</span></div>
<div class="c" style="left:869.541px"><span style="transform:scaleX(0.7303)">67.4%</span></div>
<div class="c" style="left:965.208px"><span style="transform:scaleX(0.7424)">&lt;0.0001</span></div>
</div>
<div class="r" style="top:1008px">
<div class="c" style="left:13.357px"><span style="transform:scaleX(0.6927)">Nitroglycerine</span></div>
</div>
<div class="r" style="top:1032px">
<div class="c" style="left:43.652px"><span style="transform:scaleX(0.6694)">1 year</span></div>
<div class="c" style="left:266.988px"><span style="transform:scaleX(0.7303)">14.8%</span></div>
<div class="c" style="left:367.388px"><span style="transform:scaleX(0.7303)">19.4%</span></div>
<div class="c" style="left:467.947px"><span style="transform:scaleX(0.7303)">25.5%</span></div>
<div class="c" style="left:563.608px"><span style="transform:scaleX(0.7424)">&lt;0.0001</span></div>
<div class="c" style="left:668.747px"><span style="transform:scaleX(0.7303)">21.0%</span></div>
<div class="c" style="left:769.147px"><span style="transform:scaleX(0.7303)">23.9%</span></div>
<div class="c" style="left:869.547px"><span style="transform:scaleX(0.7303)">28.7%</span></div>
<div class="c" style="left:974.841px"><span style="transform:scaleX(0.7253)">0.03</span></div>
</div>
<div class="r" style="top:1056px">
<div class="c" style="left:43.241px"><span style="transform:scaleX(0.6756)">2 years</span></div>
<div class="c" style="left:266.988px"><span style="transform:scaleX(0.7303)">14.8%</span></div>
<div class="c" style="left:367.388px"><span style="transform:scaleX(0.7303)">17.9%</span></div>
<div class="c" style="left:467.947px"><span style="transform:scaleX(0.7303)">25.8%</span></div>
<div class="c" style="left:563.608px"><span style="transform:scaleX(0.7424)">&lt;0.0001</span></div>
<div class="c" style="left:668.747px"><span style="transform:scaleX(0.7303)">22.0%</span></div>
<div class="c" style="left:769.147px"><span style="transform:scaleX(0.7303)">27.1%</span></div>
<div class="c" style="left:869.547px"><span style="transform:scaleX(0.7303)">29.1%</span></div>
<div class="c" style="left:974.841px"><span style="transform:scaleX(0.7253)">0.04</span></div>
</div>
<div class="r" style="top:1079px">
<div class="c" style="left:13.31px"><span style="transform:scaleX(0.7309)">Marital status</span></div>
</div>
<div class="r" style="top:1103px">
<div class="c" style="left:42.861px"><span style="transform:scaleX(0.6888)">Divorced/widowed</span></div>
<div class="c" style="left:266.988px"><span style="transform:scaleX(0.7303)">16.4%</span></div>
<div class="c" style="left:367.388px"><span style="transform:scaleX(0.7303)">19.7%</span></div>
<div class="c" style="left:468.021px"><span style="transform:scaleX(0.7303)">36.3%</span></div>
<div class="c" style="left:563.608px"><span style="transform:scaleX(0.7424)">&lt;0.0001</span></div>
<div class="c" style="left:668.747px"><span style="transform:scaleX(0.7303)">26.5%</span></div>
<div class="c" style="left:769.313px"><span style="transform:scaleX(0.7303)">47.5%</span></div>
<div class="c" style="left:869.541px"><span style="transform:scaleX(0.7303)">77.6%</span></div>
<div class="c" style="left:965.208px"><span style="transform:scaleX(0.7424)">&lt;0.0001</span></div>
</div>
<div class="r" style="top:1127px">
<div class="c" style="left:42.832px"><span style="transform:scaleX(0.7129)">Married</span></div>
<div class="c" style="left:267.141px"><span style="transform:scaleX(0.7303)">68.7%</span></div>
<div class="c" style="left:367.541px"><span style="transform:scaleX(0.7303)">76.0%</span></div>
<div class="c" style="left:468.009px"><span style="transform:scaleX(0.7303)">59.5%</span></div>
<div class="c" style="left:563.608px"><span style="transform:scaleX(0.7424)">&lt;0.0001</span></div>
<div class="c" style="left:668.741px"><span style="transform:scaleX(0.7303)">62.0%</span></div>
<div class="c" style="left:769.313px"><span style="transform:scaleX(0.7303)">49.8%</span></div>
<div class="c" style="left:869.388px"><span style="transform:scaleX(0.7303)">19.3%</span></div>
<div class="c" style="left:965.208px"><span style="transform:scaleX(0.7424)">&lt;0.0001</span></div>
</div>
<div class="r" style="top:1151px">
<div class="c" style="left:42.897px"><span style="transform:scaleX(0.7080)">Unmarried</span></div>
<div class="c" style="left:266.988px"><span style="transform:scaleX(0.7303)">14.9%</span></div>
<div class="c" style="left:371.176px"><span style="transform:scaleX(0.7422)">4.3%</span></div>
<div class="c" style="left:471.576px"><span style="transform:scaleX(0.7422)">4.2%</span></div>
<div class="c" style="left:563.608px"><span style="transform:scaleX(0.7424)">&lt;0.0001</span></div>
<div class="c" style="left:669.042px"><span style="transform:scaleX(0.7303)">11.5%</span></div>
<div class="c" style="left:772.608px"><span style="transform:scaleX(0.7422)">2.7%</span></div>
<div class="c" style="left:873.082px"><span style="transform:scaleX(0.7422)">3.1%</span></div>
<div class="c" style="left:965.208px"><span style="transform:scaleX(0.7424)">&lt;0.0001</span></div>
</div>
<div class="r" style="top:1175px">
<div class="c" style="left:13.239px"><span style="transform:scaleX(0.6939)">Income (1000 dkr/year)</span></div>
<div class="c" style="left:274.193px"><span style="transform:scaleX(0.7810)">296</span></div>
<div class="c" style="left:374.423px"><span style="transform:scaleX(0.7810)">176</span></div>
<div class="c" style="left:474.862px"><span style="transform:scaleX(0.7810)">152</span></div>
<div class="c" style="left:675.59px"><span style="transform:scaleX(0.7810)">190</span></div>
<div class="c" style="left:776.042px"><span style="transform:scaleX(0.7810)">129</span></div>
<div class="c" style="left:876.423px"><span style="transform:scaleX(0.7810)">136</span></div>
</div>
<div class="r" style="top:1199px">
<div class="c" style="left:256.28px"><span style="transform:scaleX(0.7450)">(289-303)</span></div>
<div class="c" style="left:356.68px"><span style="transform:scaleX(0.7450)">(168-184)</span></div>
<div class="c" style="left:457.08px"><span style="transform:scaleX(0.7450)">(140-163)</span></div>
<div class="c" style="left:563.608px"><span style="transform:scaleX(0.7424)">&lt;0.0001</span></div>
<div class="c" style="left:657.88px"><span style="transform:scaleX(0.7450)">(183-196)</span></div>
<div class="c" style="left:758.28px"><span style="transform:scaleX(0.7450)">(125-134)</span></div>
<div class="c" style="left:858.68px"><span style="transform:scaleX(0.7450)">(130-142)</span></div>
<div class="c" style="left:965.208px"><span style="transform:scaleX(0.7424)">&lt;0.0001</span></div>
</div>
</div>
<div class="fl" style="top:1224px">
<div class="ft" style="left:13.4px"><span style="transform:scaleX(0.6570)">Data are presented as mean values with 95% confidence intervals or %. </span></div>
<div class="ft" style="left:403.58px"><span style="transform:scaleX(0.6340)">ACE: angiotensin converting enzyme; </span></div>
<div class="ft" style="left:601.213px"><span style="transform:scaleX(0.6467)">BMS: bare metal stent; </span></div>
<div class="ft" style="left:725.661px"><span style="transform:scaleX(0.6307)">CHD: coronary heart disease; </span></div>
<div class="ft" style="left:881.649px"><span style="transform:scaleX(0.6466)">CK-MB: creatine</span></div>
</div>
<div class="fl" style="top:1242px">
<div class="ft" style="left:13.565px"><span style="transform:scaleX(0.6576)">kinase-myocardial band; </span></div>
<div class="ft" style="left:148.4px"><span style="transform:scaleX(0.6571)">DES: drug-eluting stent; </span></div>
<div class="ft" style="left:280.346px"><span style="transform:scaleX(0.6482)">dkr: danish kroner; </span></div>
<div class="ft" style="left:383.245px"><span style="transform:scaleX(0.6511)">eGFR: estimated glomerular filtration rate; </span></div>
<div class="ft" style="left:611.363px"><span style="transform:scaleX(0.6421)">GP IIb/IIIa: glycoprotein IIb/IIIa inhibitors; </span></div>
<div class="ft" style="left:831.895px"><span style="transform:scaleX(0.6614)">NS: non-significant; </span></div>
<div class="ft" style="left:941.343px"><span style="transform:scaleX(0.6217)">PCI:</span></div>
</div>
<div class="fl" style="top:1259px">
<div class="ft" style="left:13.599px"><span style="transform:scaleX(0.6445)">percutaneous coronary intervention; </span></div>
<div class="ft" style="left:208.064px"><span style="transform:scaleX(0.6480)">TIMI: thrombolysis in myocardial infarction</span></div>
</div>
</body>
</html>
